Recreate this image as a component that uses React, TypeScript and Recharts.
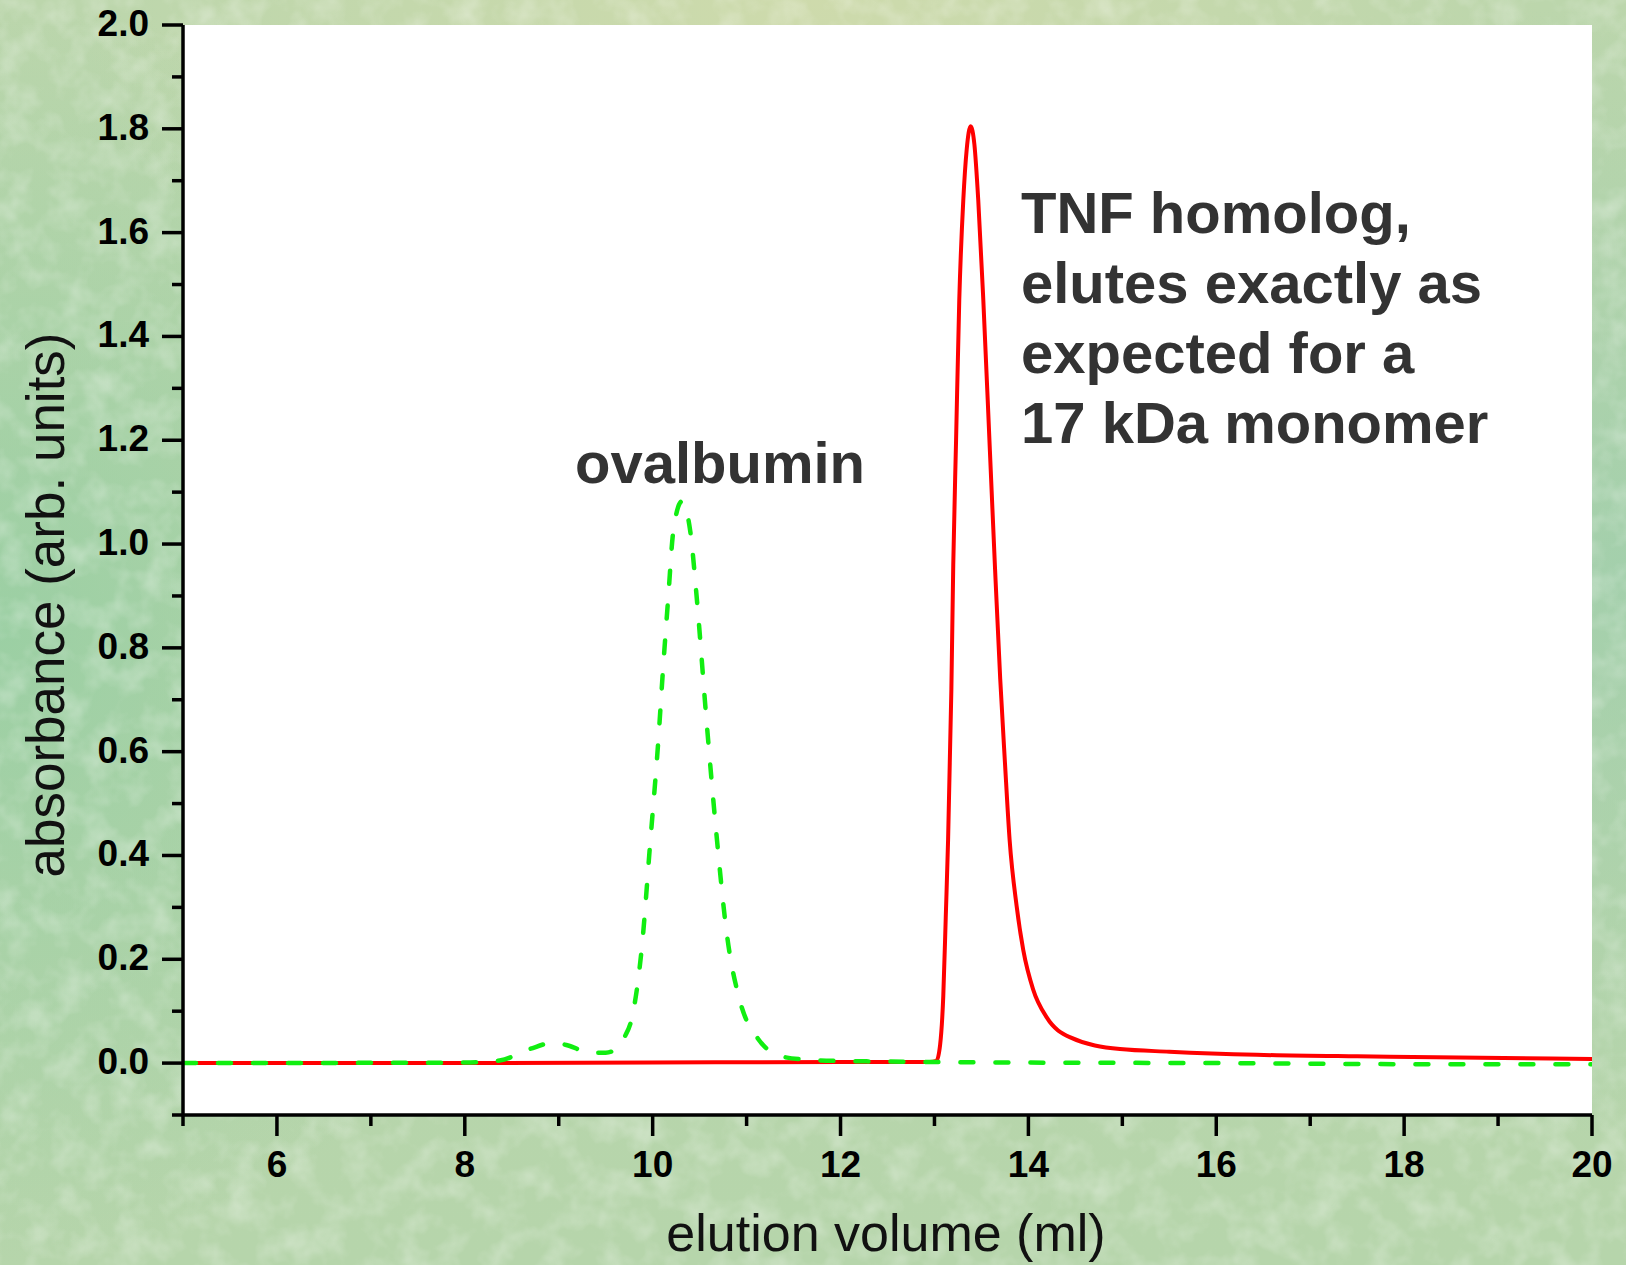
import React from 'react';
import { LineChart, Line, XAxis, YAxis, CartesianGrid, Customized } from 'recharts';

// elution profile
const tnfVolume = [5, 8, 10, 12, 12.95, 13.02, 13.06, 13.094, 13.12, 13.145, 13.18, 13.2, 13.23, 13.264, 13.307, 13.343, 13.385, 13.425, 13.466, 13.52, 13.59, 13.645, 13.7, 13.75, 13.8, 13.875, 13.945, 14.05, 14.195, 14.44, 14.975, 15.5, 16.43, 17.5, 18.34, 20];
const tnfAbs = [0, 0, 0.001, 0.002, 0.002, 0.004, 0.035, 0.13, 0.28, 0.43, 0.72, 0.96, 1.2, 1.47, 1.663, 1.76, 1.805, 1.77, 1.663, 1.47, 1.18, 0.952, 0.74, 0.58, 0.43, 0.302, 0.218, 0.142, 0.088, 0.05, 0.027, 0.022, 0.016, 0.013, 0.0115, 0.0077];

const ovaVolume = [5, 8, 8.37, 8.69, 8.94, 9.1, 9.33, 9.5, 9.62, 9.7, 9.78, 9.89, 9.97, 10.06, 10.11, 10.165, 10.22, 10.31, 10.4, 10.47, 10.57, 10.68, 10.79, 10.93, 11.11, 11.39, 11.7, 12, 12.5, 13, 14, 16, 18, 20];
const ovaAbs = [0, 0.001, 0.005, 0.027, 0.039, 0.034, 0.02, 0.02, 0.028, 0.05, 0.088, 0.233, 0.416, 0.621, 0.758, 0.895, 1.025, 1.082, 1.025, 0.895, 0.667, 0.439, 0.248, 0.119, 0.05, 0.012, 0.006, 0.004, 0.003, 0.002, 0.001, 0, -0.002, -0.002];

const xTicks = [5, 6, 7, 8, 9, 10, 11, 12, 13, 14, 15, 16, 17, 18, 19, 20];
const yTicks = [-0.1, 0, 0.1, 0.2, 0.3, 0.4, 0.5, 0.6, 0.7, 0.8, 0.9, 1.0, 1.1, 1.2, 1.3, 1.4, 1.5, 1.6, 1.7, 1.8, 1.9, 2.0];

const tnfData = tnfVolume.map((x, i) => ({ x, y: tnfAbs[i] }));
const ovaData = ovaVolume.map((x, i) => ({ x, y: ovaAbs[i] }));

const FONT = '"Liberation Sans", Arial, Helvetica, sans-serif';
const MAJOR = 21;
const MINOR = 11;
const SW = 3.5;

const isMajorX = (v: number) => v % 2 === 0;
const isMajorY = (v: number) => Math.round(v * 10) % 2 === 0 && v >= 0;

const LeftTick = ({ x, y, payload }: any) => {
  const major = isMajorY(payload.value);
  const len = major ? MAJOR : MINOR;
  return (
    <g>
      <line x1={x - len} x2={x} y1={y} y2={y} stroke="#000" strokeWidth={SW} />
      {major && (
        <text x={x - 34} y={y + 11} textAnchor="end" fontFamily={FONT} fontWeight="bold" fontSize={37} fill="#000">
          {payload.value.toFixed(1)}
        </text>
      )}
    </g>
  );
};

const RightTick = ({ x, y, payload }: any) => {
  const len = isMajorY(payload.value) ? MAJOR : MINOR;
  return <line x1={x - len} x2={x} y1={y} y2={y} stroke="#000" strokeWidth={SW} />;
};

const BottomTick = ({ x, y, payload }: any) => {
  const major = isMajorX(payload.value);
  const len = major ? MAJOR : MINOR;
  return (
    <g>
      <line x1={x} x2={x} y1={y} y2={y + len} stroke="#000" strokeWidth={SW} />
      {major && (
        <text x={x} y={y + 62} textAnchor="middle" fontFamily={FONT} fontWeight="bold" fontSize={37} fill="#000">
          {payload.value}
        </text>
      )}
    </g>
  );
};

const TopTick = ({ x, y, payload }: any) => {
  const len = isMajorX(payload.value) ? MAJOR : MINOR;
  return <line x1={x} x2={x} y1={y} y2={y + len} stroke="#000" strokeWidth={SW} />;
};

const Annotations = () => (
  <g fontFamily={FONT}>
    <text x={575} y={483} fontSize={58} fontWeight="bold" fill="#333333">ovalbumin</text>
    <text fontSize={58} fontWeight="bold" fill="#333333">
      <tspan x={1021} y={233}>TNF homolog,</tspan>
      <tspan x={1021} y={303}>elutes exactly as</tspan>
      <tspan x={1021} y={373}>expected for a</tspan>
      <tspan x={1021} y={443}>17 kDa monomer</tspan>
    </text>
    <text x={886} y={1251} textAnchor="middle" fontSize={52} fill="#111">elution volume (ml)</text>
    <text x={64} y={605} textAnchor="middle" fontSize={53} fill="#111" transform="rotate(-90 64 605)">
      absorbance (arb. units)
    </text>
  </g>
);

const App: React.FC = () => {
  return (
    <div
      style={{
        position: 'absolute',
        left: 0,
        top: 0,
        width: 1626,
        height: 1265,
        overflow: 'hidden',
        background:
          'radial-gradient(ellipse 35% 50% at 0% 50%, rgba(150,206,162,0.85), rgba(150,206,162,0) 100%),' +
          'radial-gradient(ellipse 45% 35% at 50% 0%, rgba(208,219,172,0.9), rgba(208,219,172,0) 100%),' +
          'radial-gradient(ellipse 30% 45% at 100% 45%, rgba(158,206,172,0.8), rgba(158,206,172,0) 100%),' +
          'linear-gradient(180deg, #bcd6ac 0%, #b6d5ab 100%)',
      }}
    >
      <svg width={1626} height={1265} style={{ position: 'absolute', left: 0, top: 0 }}>
        <filter id="tex">
          <feTurbulence type="fractalNoise" baseFrequency="0.035" numOctaves={3} seed={7} />
          <feColorMatrix type="matrix" values="0 0 0 0 1  0 0 0 0 1  0 0 0 0 1  1.8 0 0 0 -0.75" />
        </filter>
        <rect width={1626} height={1265} filter="url(#tex)" opacity={0.35} />
      </svg>
      <div style={{ position: 'absolute', left: 0, top: 0 }}>
        <LineChart width={1626} height={1265} margin={{ top: 25, right: 34, left: 0, bottom: 0 }}>
          <CartesianGrid horizontal={false} vertical={false} fill="#ffffff" />
          <XAxis
            dataKey="x"
            type="number"
            domain={[5, 20]}
            ticks={xTicks}
            interval={0}
            height={150}
            tickSize={0}
            tickMargin={0}
            tickLine={false}
            axisLine={{ stroke: '#000', strokeWidth: SW }}
            tick={<BottomTick />}
            allowDataOverflow
          />
          <XAxis
            xAxisId="top"
            orientation="top"
            dataKey="x"
            type="number"
            domain={[5, 20]}
            ticks={xTicks}
            interval={0}
            height={0}
            tickSize={0}
            tickMargin={0}
            tickLine={false}
            axisLine={{ stroke: '#000', strokeWidth: SW }}
            tick={<TopTick />}
            allowDataOverflow
          />
          <YAxis
            type="number"
            domain={[-0.1, 2]}
            ticks={yTicks}
            interval={0}
            width={183}
            tickSize={0}
            tickMargin={0}
            tickLine={false}
            axisLine={{ stroke: '#000', strokeWidth: SW }}
            tick={<LeftTick />}
            allowDataOverflow
          />
          <YAxis
            yAxisId="right"
            orientation="right"
            type="number"
            domain={[-0.1, 2]}
            ticks={yTicks}
            interval={0}
            width={0}
            tickSize={0}
            tickMargin={0}
            tickLine={false}
            axisLine={{ stroke: '#000', strokeWidth: SW }}
            tick={<RightTick />}
            allowDataOverflow
          />
          <Line
            data={tnfData}
            dataKey="y"
            type="monotone"
            stroke="#ff0000"
            strokeWidth={4}
            dot={false}
            activeDot={false}
            isAnimationActive={false}
          />
          <Line
            data={ovaData}
            dataKey="y"
            type="monotone"
            stroke="#11ee11"
            strokeWidth={4.5}
            strokeDasharray="13 22"
            strokeLinecap="round"
            dot={false}
            activeDot={false}
            isAnimationActive={false}
          />
          <Customized component={<Annotations />} />
        </LineChart>
      </div>
    </div>
  );
};

export default App;
